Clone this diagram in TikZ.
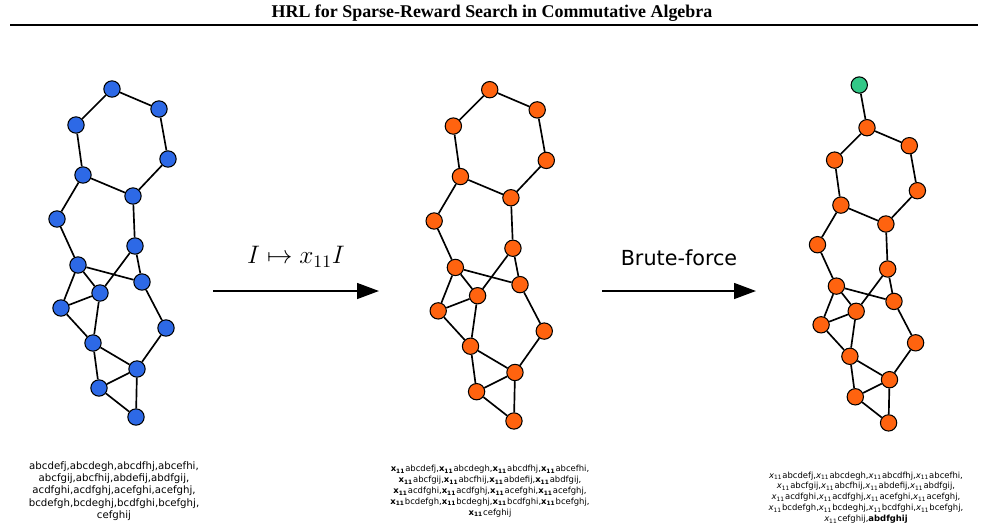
\documentclass[tikz,border=0pt]{standalone}
\usepackage{fontspec}
\newfontfamily\plotfont{DejaVu Sans}
\newfontfamily\titlefont{Liberation Serif}
\usepackage{tikz}
\usetikzlibrary{arrows.meta}
\definecolor{atomblue}{RGB}{45,105,230}
\definecolor{atomorange}{RGB}{255,99,15}
\definecolor{atomgreen}{RGB}{50,200,135}
\tikzset{
  atom/.style={circle, draw=black, fill=#1, line width=0.6pt,
               minimum size=9.3pt, inner sep=0pt},
  bond/.style={draw=black, line width=0.95pt},
  mapto/.style={-{Triangle[length=12.5pt, width=9pt]}, line width=1.1pt},
  gens/.style={align=center, inner sep=0pt},
}
% monomial prefixes for the generator lists
\newcommand{\xmulb}{{\bfseries x\textsubscript{11}}}
\newcommand{\xmuli}{{\itshape x}\textsubscript{11}}
% the graph of the ideal, nodes named #1<k>
\newcommand{\idealgraph}[2]{%
  \foreach \k/\x/\y in {1/112/89, 2/159/109, 3/76/125, 4/168/159, 5/83/175,
      6/133/196, 7/57/219, 8/135/246, 9/78/265, 10/142/282, 11/100/293,
      12/61/308, 13/166/328, 14/93/343, 15/137/369, 16/99/388, 17/136/417}
    \node[atom=#2] (#1\k) at (\x,\y) {};
  \foreach \a/\b in {1/2, 1/3, 2/4, 3/5, 4/6, 5/6, 5/7, 6/8, 7/9, 8/10, 8/11,
      9/10, 9/11, 9/12, 11/12, 11/14, 12/14, 10/13, 13/15, 14/15, 14/16,
      15/16, 15/17, 16/17}
    \draw[bond] (#1\a) -- (#1\b);
}

\begin{document}
\begin{tikzpicture}[x=0.02cm, y=-0.02cm]
  \useasboundingbox (0,0) rectangle (985,528);
  % title
  \node[font=\titlefont\bfseries\fontsize{10.2}{12}\selectfont] (title) at (492,13)
    {HRL for Sparse-Reward Search in Commutative Algebra};
  \coordinate (ruleL) at (10,25);
  \coordinate (ruleR) at (978,25);
  \draw[line width=1.2pt] (ruleL) -- (ruleR);

  % three graphs
  \idealgraph{L}{atomblue}
  \begin{scope}[shift={(376.6,-0.2)}, scale=1.01]
    \idealgraph{M}{atomorange}
  \end{scope}
  \begin{scope}[shift={(766.2,47.6)}, scale=0.9]
    \idealgraph{R}{atomorange}
    \node[atom=atomgreen] (Rg) at (103.4,41.6) {};
    \draw[bond] (Rg) -- (R1);
  \end{scope}

  % steps
  \coordinate (a1s) at (213,291);
  \coordinate (a1e) at (379,291);
  \draw[mapto] (a1s) -- (a1e);
  \node[font=\fontsize{14.5}{16}\selectfont] (mul) at (296,257) {$I\mapsto x_{11}I$};
  \coordinate (a2s) at (602,291);
  \coordinate (a2e) at (756,291);
  \draw[mapto] (a2s) -- (a2e);
  \node[font=\plotfont\fontsize{11.8}{14}\selectfont] (brute) at (679,258) {Brute-force};

  % generators
  \node[gens, font=\plotfont\fontsize{5.8}{7}\selectfont] (genL) at (114,491)
    {abcdefj,abcdegh,abcdfhj,abcefhi,\\
     abcfgij,abcfhij,abdefij,abdfgij,\\
     acdfghi,acdfghj,acefghi,acefghj,\\
     bcdefgh,bcdeghj,bcdfghi,bcefghj,\\
     cefghij};
  \node[gens, font=\plotfont\fontsize{4.8}{6.2}\selectfont] (genM) at (490,491)
    {\xmulb abcdefj,\xmulb abcdegh,\xmulb abcdfhj,\xmulb abcefhi,\\
     \xmulb abcfgij,\xmulb abcfhij,\xmulb abdefij,\xmulb abdfgij,\\
     \xmulb acdfghi,\xmulb acdfghj,\xmulb acefghi,\xmulb acefghj,\\
     \xmulb bcdefgh,\xmulb bcdeghj,\xmulb bcdfghi,\xmulb bcefghj,\\
     \xmulb cefghij};
  \node[gens, font=\plotfont\fontsize{4.8}{6.2}\selectfont] (genR) at (866,497.5)
    {\xmuli abcdefj,\xmuli abcdegh,\xmuli abcdfhj,\xmuli abcefhi,\\
     \xmuli abcfgij,\xmuli abcfhij,\xmuli abdefij,\xmuli abdfgij,\\
     \xmuli acdfghi,\xmuli acdfghj,\xmuli acefghi,\xmuli acefghj,\\
     \xmuli bcdefgh,\xmuli bcdeghj,\xmuli bcdfghi,\xmuli bcefghj,\\
     \xmuli cefghij,\textbf{abdfghij}};
\end{tikzpicture}
\end{document}
